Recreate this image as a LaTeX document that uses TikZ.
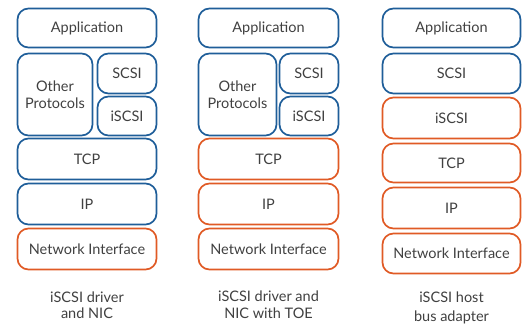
\documentclass[tikz,border=0pt]{standalone}
\usepackage{fontspec}
\setmainfont{Lato}
\definecolor{bl}{HTML}{1F5E99}
\definecolor{og}{HTML}{E05A25}
\definecolor{tx}{HTML}{404040}
\begin{document}
\begin{tikzpicture}[x=1pt,y=-1pt,
  lay/.style={draw, line width=1.7pt, rounded corners=11pt, text=tx, font=\fontsize{14.5}{17}\selectfont, align=center, inner sep=0pt},
  bluebox/.style={lay, draw=bl},
  orbox/.style={lay, draw=og},
  captext/.style={text=tx, font=\fontsize{14.5}{16.5}\selectfont, align=center}]
\useasboundingbox (0,0) rectangle (524,327);
% column 1
\node[bluebox, minimum width=139pt, minimum height=39pt] (a1) at (87,28) {Application};
\node[bluebox, minimum width=75pt, minimum height=82pt] (o1) at (55,94.5) {Other\\Protocols};
\node[bluebox, minimum width=59pt, minimum height=40pt] (s1) at (127,73.5) {SCSI};
\node[bluebox, minimum width=59pt, minimum height=39pt] (i1) at (127,116) {iSCSI};
\node[bluebox, minimum width=139pt, minimum height=41pt] (t1) at (87,159) {TCP};
\node[bluebox, minimum width=139pt, minimum height=41pt] (p1) at (87,204) {IP};
\node[orbox, minimum width=139pt, minimum height=41pt] (n1) at (87,249) {Network Interface};
\node[captext] (c1) at (87,305) {iSCSI driver\\and NIC};
% column 2
\node[bluebox, minimum width=140pt, minimum height=39pt] (a2) at (268.5,28) {Application};
\node[bluebox, minimum width=78pt, minimum height=82pt] (o2) at (237.5,94.5) {Other\\Protocols};
\node[bluebox, minimum width=59pt, minimum height=40pt] (s2) at (309,73.5) {SCSI};
\node[bluebox, minimum width=59pt, minimum height=39pt] (i2) at (309,116) {iSCSI};
\node[orbox, minimum width=140pt, minimum height=41pt] (t2) at (268.5,159) {TCP};
\node[orbox, minimum width=140pt, minimum height=41pt] (p2) at (268.5,204) {IP};
\node[orbox, minimum width=140pt, minimum height=41pt] (n2) at (268.5,249) {Network Interface};
\node[captext] (c2) at (268.5,304.5) {iSCSI driver and\\NIC with TOE};
% column 3
\node[bluebox, minimum width=138pt, minimum height=39pt] (a3) at (451.5,28) {Application};
\node[bluebox, minimum width=138pt, minimum height=40pt] (s3) at (451.5,73.5) {SCSI};
\node[orbox, minimum width=138pt, minimum height=41pt] (i3) at (451.5,118) {iSCSI};
\node[orbox, minimum width=138pt, minimum height=39pt] (t3) at (451.5,163) {TCP};
\node[orbox, minimum width=138pt, minimum height=41pt] (p3) at (451.5,208) {IP};
\node[orbox, minimum width=138pt, minimum height=40pt] (n3) at (451.5,253.5) {Network Interface};
\node[captext, font=\fontsize{14.5}{19.5}\selectfont] (c3) at (451.5,308) {iSCSI host\\bus adapter};
\end{tikzpicture}
\end{document}
